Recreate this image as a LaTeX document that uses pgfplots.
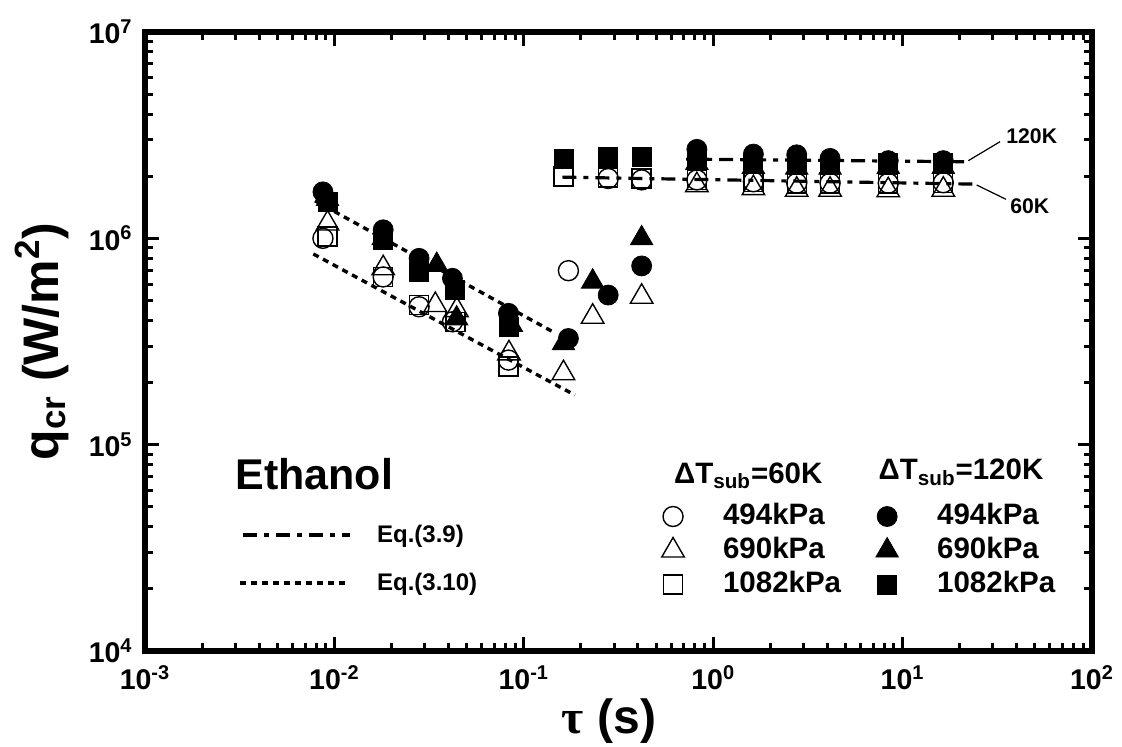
\documentclass[border=0pt]{standalone}
\usepackage{fontspec}
\setmainfont{Liberation Sans}
\newfontfamily\serifgreek{Liberation Serif}
\usepackage{pgfplots}
\pgfplotsset{compat=1.18}
\tikzset{
  eqnine/.style={line width=1.6pt, dash pattern=on 7pt off 3.5pt on 2.5pt off 3.5pt},
  eqten/.style={line width=1.7pt, dash pattern=on 3pt off 2.5pt},
}
\begin{document}
\begin{tikzpicture}
\useasboundingbox (0,0) rectangle (561pt,373pt);
\begin{axis}[
  at={(72.5pt,47.5pt)}, anchor=south west,
  scale only axis, width=473.5pt, height=309.5pt,
  xmode=log, ymode=log,
  xmin=1e-3, xmax=1e2, ymin=1e4, ymax=1e7,
  axis line style={line width=3pt, line cap=rect},
  tick align=inside,
  major tick length=7pt, minor tick length=4pt,
  tick style={line width=1.5pt, black},
  xtick={1e-3,1e-2,1e-1,1,10,100},
  xticklabels={10\textsuperscript{-3},10\textsuperscript{-2},10\textsuperscript{-1},10\textsuperscript{0},10\textsuperscript{1},10\textsuperscript{2}},
  ytick={1e4,1e5,1e6,1e7},
  yticklabels={10\textsuperscript{4},10\textsuperscript{5},10\textsuperscript{6},10\textsuperscript{7}},
  minor xtick={0.002,0.003,0.004,0.005,0.006,0.007,0.008,0.009,0.02,0.03,0.04,0.05,0.06,0.07,0.08,0.09,0.2,0.3,0.4,0.5,0.6,0.7,0.8,0.9,2,3,4,5,6,7,8,9,20,30,40,50,60,70,80,90},
  minor ytick={2e4,3e4,4e4,5e4,6e4,7e4,8e4,9e4,2e5,3e5,4e5,5e5,6e5,7e5,8e5,9e5,2e6,3e6,4e6,5e6,6e6,7e6,8e6,9e6},
  ticklabel style={font=\bfseries\fontsize{14.25}{17}\selectfont, inner sep=0pt},
  xticklabel style={anchor=north, yshift=-7pt},
  yticklabel style={anchor=east, xshift=-6pt},
  xlabel={{\serifgreek τ} \textbf{(s)}},
  xlabel style={font=\bfseries\fontsize{24}{28}\selectfont, at={(axis description cs:0.49,-0.134)}, anchor=base, inner sep=0pt},
  ylabel={\textbf{q\textsubscript{cr} (W/m\textsuperscript{2})}},
  ylabel style={font=\bfseries\fontsize{25}{30}\selectfont, at={(axis description cs:-0.1088,0.5)}, anchor=center, inner sep=0pt},
  legend style={draw=none, fill=none, at={(0.5407,0.2399)}, anchor=north west,
    inner sep=0pt, outer sep=0pt, font=\bfseries\fontsize{14.75}{17}\selectfont,
    row sep=3pt, nodes={inner sep=0pt, text height=11pt, text depth=3pt},
    /tikz/every even column/.append style={column sep=15pt}},
  legend columns=2,
  legend cell align=left,
  legend image code/.code={\path[draw=none,fill=none] (-8pt,-7pt) rectangle (25pt,7pt); \draw[#1] plot coordinates {(0pt,0pt)};},
]
% Eq.(3.10) lines
\addplot[forget plot, no marks, eqten] coordinates {(0.0079,1.52e6) (0.146,3.48e5)};
\addplot[forget plot, no marks, eqten] coordinates {(0.00774,8.4e5) (0.186,1.74e5)};
% Eq.(3.9) lines
\addplot[forget plot, no marks, eqnine] coordinates {(0.72,2.42e6) (22.2,2.35e6)};
\addplot[forget plot, no marks, eqnine] coordinates {(0.16,1.98e6) (25.1,1.83e6)};
% 60K 494kPa
\addplot[only marks, mark=o, mark size=5pt, mark options={line width=0.7pt, black}] coordinates {
(0.0087,1.0e6) (0.0181,6.5e5) (0.028,4.66e5) (0.042,3.94e5) (0.083,2.57e5) (0.172,6.97e5) (0.279,1.95e6) (0.419,1.92e6) (0.82,1.92e6) (1.63,1.88e6) (2.76,1.85e6) (4.14,1.85e6) (8.4,1.85e6) (16.4,1.86e6)};
\addlegendentry{494kPa}
% 120K 494kPa
\addplot[only marks, mark=*, mark size=5pt, mark options={black, fill=black}] coordinates {
(0.0087,1.68e6) (0.0181,1.10e6) (0.028,8.0e5) (0.042,6.4e5) (0.083,4.33e5) (0.172,3.27e5) (0.279,5.31e5) (0.419,7.35e5) (0.82,2.70e6) (1.63,2.56e6) (2.76,2.54e6) (4.14,2.44e6) (8.4,2.38e6) (16.4,2.38e6)};
\addlegendentry{494kPa}
% 60K 690kPa
\addplot[only marks, mark=triangle, mark size=6.5pt, mark options={line width=0.7pt, black}] coordinates {
(0.0092,1.18e6) (0.0181,7.16e5) (0.0341,4.75e5) (0.0443,4.49e5) (0.0835,2.77e5) (0.162,2.22e5) (0.231,4.17e5) (0.419,5.21e5) (0.82,1.81e6) (1.63,1.75e6) (2.76,1.72e6) (4.14,1.72e6) (8.4,1.71e6) (16.4,1.72e6)};
\addlegendentry{690kPa}
% 120K 690kPa
\addplot[only marks, mark=triangle*, mark size=6.5pt, mark options={black, fill=black}] coordinates {
(0.0092,1.55e6) (0.0181,1.0e6) (0.0347,7.43e5) (0.0442,4.09e5) (0.086,3.8e5) (0.162,3.1e5) (0.231,6.17e5) (0.419,1.0e6) (0.82,2.32e6) (1.63,2.22e6) (2.76,2.2e6) (4.14,2.2e6) (8.4,2.22e6) (16.4,2.22e6)};
\addlegendentry{690kPa}
% 60K 1082kPa
\addplot[only marks, mark=square, mark size=4.75pt, mark options={line width=0.7pt, black}] coordinates {
(0.0092,1.02e6) (0.0181,6.5e5) (0.028,4.75e5) (0.0435,3.94e5) (0.083,2.39e5) (0.162,1.99e6) (0.279,1.97e6) (0.419,1.95e6) (0.82,1.92e6) (1.63,1.87e6) (2.76,1.84e6) (4.14,1.84e6) (8.4,1.84e6) (16.4,1.85e6)};
\addlegendentry{1082kPa}
% 120K 1082kPa
\addplot[only marks, mark=square*, mark size=4.75pt, mark options={black, fill=black}] coordinates {
(0.0092,1.5e6) (0.0181,9.8e5) (0.028,6.88e5) (0.0435,5.61e5) (0.083,3.73e5) (0.162,2.44e6) (0.279,2.49e6) (0.419,2.47e6) (0.82,2.40e6) (1.63,2.31e6) (2.76,2.28e6) (4.14,2.28e6) (8.4,2.31e6) (16.4,2.31e6)};
\addlegendentry{1082kPa}
% annotations
\node[anchor=base west, inner sep=0pt, font=\bfseries\fontsize{21.5}{25}\selectfont] at (rel axis cs:0.0950,0.2601) {Ethanol};
\draw[eqnine] (rel axis cs:0.1035,0.1874) -- (rel axis cs:0.2162,0.1874);
\draw[eqten] (rel axis cs:0.1003,0.1096) -- (rel axis cs:0.2130,0.1096);
\node[anchor=base west, inner sep=0pt, font=\bfseries\fontsize{12}{14}\selectfont] at (rel axis cs:0.2447,0.175) {Eq.(3.9)};
\node[anchor=base west, inner sep=0pt, font=\bfseries\fontsize{12}{14}\selectfont] at (rel axis cs:0.2447,0.0985) {Eq.(3.10)};
\node[anchor=base west, inner sep=0pt, font=\bfseries\fontsize{14.75}{17}\selectfont] at (rel axis cs:0.5583,0.2709) {ΔT\textsubscript{sub}=60K};
\node[anchor=base west, inner sep=0pt, font=\bfseries\fontsize{14.75}{17}\selectfont] at (rel axis cs:0.7743,0.2763) {ΔT\textsubscript{sub}=120K};
\node[anchor=base west, inner sep=0pt, font=\bfseries\fontsize{10.6}{12}\selectfont] at (rel axis cs:0.9092,0.8202) {120K};
\node[anchor=base west, inner sep=0pt, font=\bfseries\fontsize{10.6}{12}\selectfont] at (rel axis cs:0.9134,0.7060) {60K};
\draw[line width=0.6pt] (rel axis cs:0.8694,0.7921) -- (rel axis cs:0.9029,0.8228);
\draw[line width=0.6pt] (rel axis cs:0.8782,0.7528) -- (rel axis cs:0.9092,0.7297);
\end{axis}
\end{tikzpicture}
\end{document}
